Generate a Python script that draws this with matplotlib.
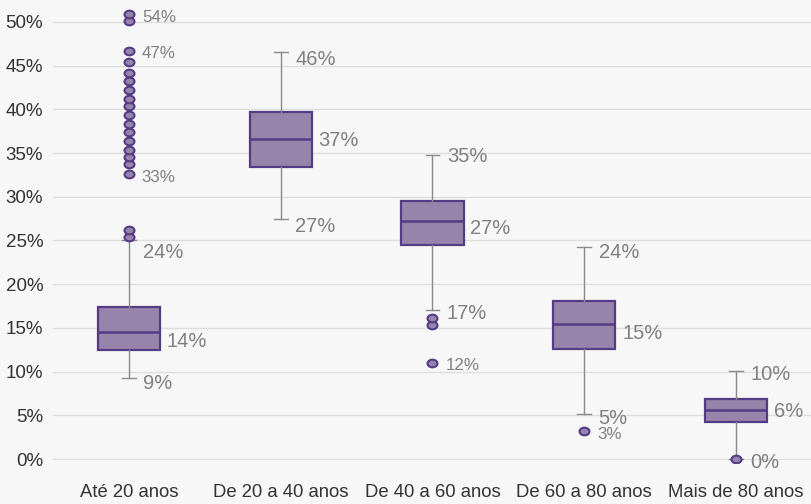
import numpy as np
import matplotlib
matplotlib.use("Agg")
import matplotlib.pyplot as plt
from matplotlib.markers import MarkerStyle
from matplotlib.transforms import Affine2D

plt.rcParams['font.family'] = ['Liberation Sans', 'DejaVu Sans']

categories = ['Até 20 anos', 'De 20 a 40 anos', 'De 40 a 60 anos', 'De 60 a 80 anos', 'Mais de 80 anos']

# box statistics (in %)
whisker_low = [9.3, 27.5, 17.0, 5.1, 0.0]
q1 = [12.5, 33.4, 24.5, 12.6, 4.2]
median = [14.5, 36.6, 27.2, 15.5, 5.6]
q3 = [17.4, 39.7, 29.5, 18.1, 6.9]
whisker_high = [25.0, 46.5, 34.8, 24.2, 10.1]

outliers = [
    [25.4, 26.2, 32.6, 33.7, 34.6, 35.4, 36.4, 37.4, 38.3, 39.3, 40.4,
     41.2, 42.2, 43.2, 44.1, 45.4, 46.7, 50.1, 50.9],
    [],
    [11.0, 15.3, 16.1],
    [3.2],
    [0.0],
]

# value labels shown beside each box
label_high = [24, 46, 35, 24, 10]
label_mid = [14, 37, 27, 15, 6]
label_low = [9, 27, 17, 5, 0]

# small labels next to outliers: (box index, y position, text)
out_label_box = [0, 0, 0, 2, 3]
out_label_y = [50.9, 46.7, 32.6, 11.0, 3.2]
out_label_txt = ['54%', '47%', '33%', '12%', '3%']

face = '#9784ab'
edge = '#553a85'
grey_txt = '#808080'

fig = plt.figure(figsize=(8.12, 5.04), dpi=100)
fig.patch.set_facecolor('#f7f7f7')
ax = fig.add_axes([53 / 812, 1 - 463 / 504, 1 - 53 / 812, 463 / 504])
ax.set_facecolor('#f7f7f7')

stats = []
for i in range(len(categories)):
    stats.append({
        'whislo': whisker_low[i], 'q1': q1[i], 'med': median[i],
        'q3': q3[i], 'whishi': whisker_high[i], 'fliers': outliers[i],
    })

oval = MarkerStyle('o', transform=Affine2D().scale(1.3, 1.0))

pos = np.arange(len(categories))
ax.bxp(stats, positions=pos, widths=0.41, patch_artist=True, showfliers=True,
       boxprops=dict(facecolor=face, edgecolor=edge, linewidth=1.6),
       medianprops=dict(color=edge, linewidth=1.8),
       whiskerprops=dict(color='#8a8a8a', linewidth=1.0),
       capprops=dict(color='#8a8a8a', linewidth=1.0),
       capwidths=0.09,
       flierprops=dict(marker=oval, markerfacecolor=face, markeredgecolor=edge,
                       markersize=5.5, markeredgewidth=1.5),
       zorder=3)

for i in range(len(categories)):
    ax.text(pos[i] + 0.095, label_high[i] - 0.35, f'{label_high[i]}%', fontsize=14.5,
            color=grey_txt, va='center', ha='left', zorder=4)
    ax.text(pos[i] + 0.25, label_mid[i] - 0.6, f'{label_mid[i]}%', fontsize=14.5,
            color=grey_txt, va='center', ha='left', zorder=4)
    ax.text(pos[i] + 0.095, label_low[i] - 0.35, f'{label_low[i]}%', fontsize=14.5,
            color=grey_txt, va='center', ha='left', zorder=4)

for b, y, t in zip(out_label_box, out_label_y, out_label_txt):
    ax.text(pos[b] + 0.085, y - 0.35, t, fontsize=12.2, color=grey_txt,
            va='center', ha='left', zorder=4)

ax.set_xlim(-0.5, len(categories) - 0.5)
ax.set_ylim(-0.45, 52.5)
ax.set_yticks(np.arange(0, 51, 5))
ax.set_yticklabels([f'{v}%' for v in range(0, 51, 5)])
ax.set_xticks(pos)
ax.set_xticklabels(categories)
ax.tick_params(axis='both', length=0, labelsize=13.5, colors='#333333')
ax.tick_params(axis='x', labelsize=13.3, pad=15)
ax.tick_params(axis='y', pad=7)
ax.yaxis.grid(True, color='#dedede', linewidth=1.0, zorder=0)
ax.set_axisbelow(True)
for s in ax.spines.values():
    s.set_visible(False)

fig.savefig('out.png', dpi=100, facecolor=fig.get_facecolor())
